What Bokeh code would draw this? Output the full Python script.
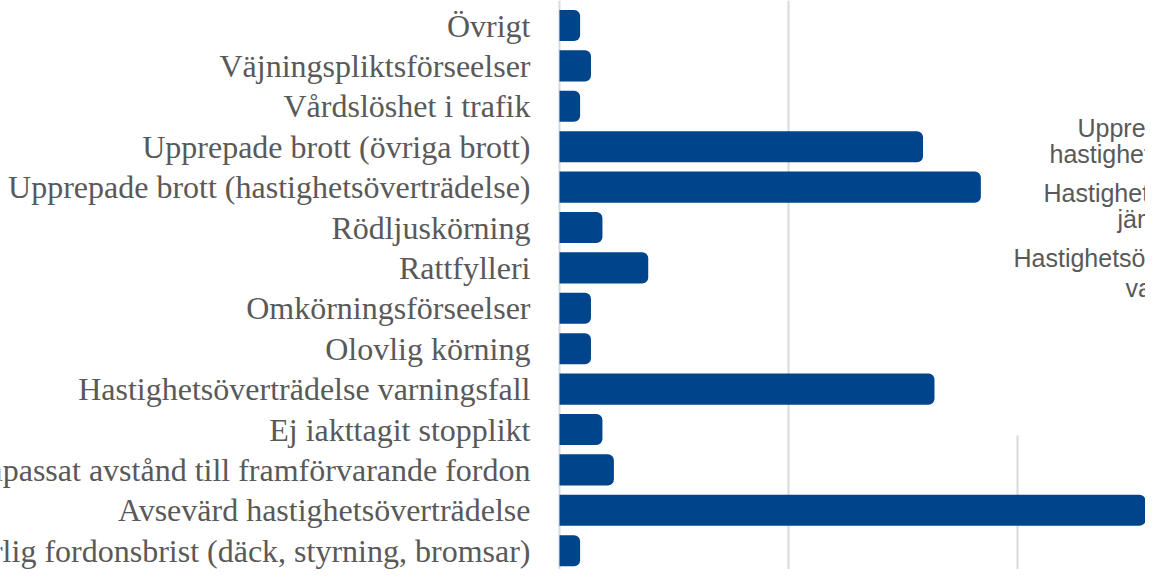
from bokeh.plotting import figure
from bokeh.models import Range1d, Grid, FixedTicker, ColumnDataSource
from bokeh.core.properties import value
from bokeh.embed import file_html
from bokeh.resources import INLINE

# ---- data ----
categories = [
    "Övrigt",
    "Väjningspliktsförseelser",
    "Vårdslöshet i trafik",
    "Upprepade brott (övriga brott)",
    "Upprepade brott (hastighetsöverträdelse)",
    "Rödljuskörning",
    "Rattfylleri",
    "Omkörningsförseelser",
    "Olovlig körning",
    "Hastighetsöverträdelse varningsfall",
    "Ej iakttagit stopplikt",
    "Ej anpassat avstånd till framförvarande fordon",
    "Avsevärd hastighetsöverträdelse",
    "Trafikfarlig fordonsbrist (däck, styrning, bromsar)",
]
values = [1.8, 2.75, 1.8, 31.75, 36.8, 3.75, 7.75, 2.75, 2.75, 32.75, 3.75, 4.75, 60, 1.8]
grid_ticks = [0, 20, 40]

# text of the neighbouring (cut-off) chart on the right
right_texts = ["Upprepade brott", "hastighetsöverträdelse", "Hastighetsöverträdelse",
               "jämförelse", "Hastighetsöverträdelse", "varningsfall", "Ej iakttagit stopplikt"]

# ---- layout ----
W, H = 1145, 569
PX = 11.45          # pixels per unit
ZERO = 559          # canvas x of value 0
TOP = 25            # canvas y of first category centre
PITCH = 40.4        # pixels per category

def dx(px):  # canvas px -> data x
    return (px - ZERO) / PX

def dy(py):  # canvas py -> data y
    return (py - TOP) / PITCH

p = figure(width=W, height=H, output_backend="svg", toolbar_location=None,
           x_range=Range1d(dx(0), dx(W)), y_range=Range1d(dy(H), dy(0)),
           x_axis_location=None, y_axis_location=None, min_border=0,
           outline_line_color=None, background_fill_color="white")

p.center = [r for r in p.center if not isinstance(r, Grid)]
p.add_layout(Grid(dimension=0, ticker=FixedTicker(ticks=grid_ticks),
                  grid_line_color="#D9D9D9", grid_line_width=2))

# white box of the overlapping chart, hiding the upper part of one gridline
p.quad(left=[dx(995)], right=[dx(W + 20)], top=[dy(-20)], bottom=[dy(435)],
       fill_color="white", line_color=None)

src = ColumnDataSource(dict(y=list(range(len(categories))), v=values, cat=categories))
p.hbar(y="y", left=0, right="v", height=0.77, source=src,
       fill_color="#00458B", line_color=None, border_radius=(0, 6, 6, 0))

p.text(x=0, y="y", text="cat", source=src, x_offset=-29,
       text_align="right", text_baseline="middle",
       text_font=value("Liberation Serif"), text_font_size="32px",
       text_color="#595959")

rx = [1077, 1049, 1043, 1117, 1013, 1125, 1147]
ry = [127, 153, 192, 218, 257, 287, 340]
p.text(x=[dx(v) for v in rx], y=[dy(v) for v in ry], text=right_texts,
       text_align="left", text_baseline="middle",
       text_font=value("Liberation Sans"), text_font_size="25px",
       text_color="#595959")

open("out.html", "w").write(file_html(p, INLINE))
